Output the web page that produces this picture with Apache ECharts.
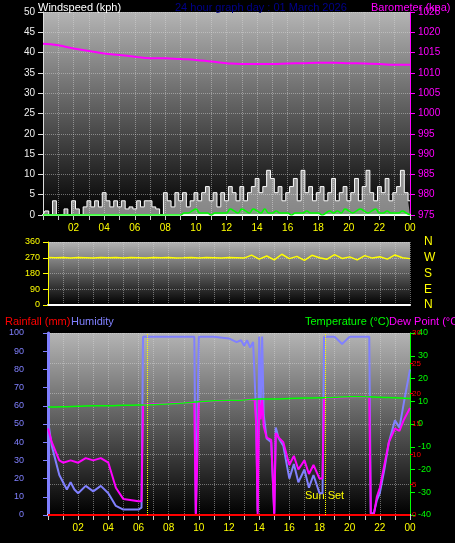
<!DOCTYPE html>
<html>
<head>
<meta charset="utf-8">
<script src="https://cdn.jsdelivr.net/npm/echarts@6/dist/echarts.min.js"></script>
<style>html,body{margin:0;padding:0;background:#000;}#chart{width:455px;height:543px;}</style>
</head>
<body>
<div id="chart"></div>
<script>
// 数据：时间单位为小时 (0-24)
var gust=[0,1,0,3.5, 0,0,1.5,0, 3.5,1.5,0,2, 3.5,2,3.5,2, 5.5,3.5,2,3.5, 2,3.5,1.5,2,
  1.5,3.5,2,3.5, 3.5,2,1.5,0, 5.5,3.5,2,5.5, 3.5,5.5,2,3.5, 5.5,3.5,5.5,7, 3.5,5.5,2,5.5,
  3.5,7,5.5,3.5, 7,3.5,5.5,7, 9,5.5,7,11, 9,5.5,7,3.5, 5.5,7,9,3.5, 11,5.5,7,3.5,
  5.5,7,3.5,5.5, 9,3.5,5.5,7, 3.5,5.5,9,3.5, 7,11,5.5,3.5, 7,5.5,9,3.5, 5.5,7,11,5.5, 3.5];
var windAvg=[0,0,0,0, 0,0,0,0, 0,0,0,0, 0,0,0,0, 0,0,0,0, 0,0,0,0,
  0,0,0,0, 0,0,0,0, 0,0,0,0, 0,0.5,0.5,1, 1.5,0.5,0.5,0.5, 0,0.5,0.5,0.5,
  0.5,1.5,1,0.5, 1.5,1,0.5,1.5, 1,0.5,1.5,0.5, 0.5,1,0.5,0.5, 0.5,0,0.5,0.5, 0.5,1,0.5,0.5,
  0.5,0,0.5,1, 0.5,1,0.5,1.5, 1,0.5,1,1.5, 1,0.5,1,1.5, 0.5,0.5,1,0.5, 0.5,0.5,1,0.5, 0];
var baro=[1017.2,1016.8,1016.0,1015.4,1014.8,1014.4,1014.0,1013.6,1013.6,1013.4,1013.2,1012.8,
  1012.4,1012.2,1012.2,1012.2,1012.3,1012.4,1012.5,1012.5,1012.4,1012.3,1012.2,1012.0,1012.0];
var windDir=[272,270,271,269,272,270,268,271,270,272,269,271,270,268,272,270,271,269,270,272,
  268,271,270,269,272,270,268,285,262,280,258,290,265,278,255,284,270,262,288,266,275,258,
  282,268,276,262,286,270,265];
var temp=[7.5,7.6,7.8,8,8,8.2,8.3,8.5,8.8,9.2,9.8,10.2,10.4,10.6,11,11,11.2,11.4,11.5,11.8,12,12,11.8,11.5,11.2];
var humidity=[[0,52],[0.25,38],[0.5,30],[0.75,22],[1,18],[1.25,14],[1.5,18],[1.75,14],[2,12],[2.5,16],[3,13],[3.5,16],[4,12],[4.5,5],[5,3],[5.5,3],[6,3],[6.2,4],[6.3,98],[7,98],[8,98],[9,98],[9.7,98],[9.8,1],[9.9,1],[10,98],[11,98],[12,97],[12.5,95],[12.8,96],[13,93],[13.2,96],[13.4,92],[13.6,95],[13.8,55],[13.9,2],[14,98],[14.1,60],[14.2,98],[14.3,55],[14.5,42],[14.8,40],[15,1],[15.1,48],[15.3,42],[15.6,38],[16,20],[16.3,28],[16.6,18],[17,25],[17.3,15],[17.6,22],[18,12],[18.2,12],[18.3,98],[19,98],[19.5,94],[20,98],[21,98],[21.3,98],[21.4,1],[21.6,1],[21.8,8],[22,12],[22.3,25],[22.6,40],[23,52],[23.3,48],[23.6,62],[24,80]];
var dewPoint=[[0,-2],[0.25,-8],[0.5,-12],[0.75,-16],[1,-17],[1.5,-16],[2,-17],[2.5,-15],[3,-16],[3.5,-15],[4,-17],[4.5,-28],[5,-33],[6,-34],[6.2,-34],[6.3,8.5],[9.7,9.5],[9.8,-40],[9.9,-40],[10,9.8],[12,10.4],[13.7,10.8],[13.8,0],[13.9,-40],[14,11],[14.1,2],[14.2,11],[14.3,-1],[14.5,-6],[14.8,-7],[15,-40],[15.1,-4],[15.3,-6],[15.6,-8],[16,-18],[16.3,-14],[16.6,-20],[17,-16],[17.3,-22],[17.6,-18],[18,-24],[18.2,-24],[18.3,11.5],[21.3,12],[21.4,-40],[21.6,-40],[21.8,-32],[22,-28],[22.3,-18],[22.6,-8],[23,-2],[23.3,-3],[23.6,2],[24,7]];
var rainfall=[0,0,0,0,0,0,0,0,0,0,0,0,0,0,0,0,0,0,0,0,0,0,0,0,0];
var dirLabels={0:'N',90:'E',180:'S',270:'W',360:'N'};
var sunRise=6.6, sunSet=18.4;

function pairs(arr,step){var r=[];for(var i=0;i<arr.length;i++){r.push([i*step,arr[i]]);}return r;}
function hourLabel(v){if(v%2!==0||v===0)return '';var h=v%24;return (h<10?'0':'')+h;}

var font='Liberation Sans';
var bg={type:'linear',x:0,y:0,x2:0,y2:1,colorStops:[{offset:0,color:'#b4b4b4'},{offset:1,color:'#000'}]};
var split={show:true,lineStyle:{color:'rgba(220,220,220,0.45)',type:'dotted'}};
function xa(idx,show){return {type:'value',gridIndex:idx,min:0,max:24,interval:1,
  axisLine:{show:true,lineStyle:{color:'#fff',width:2}},axisTick:{show:show,lineStyle:{color:'#ccc'}},
  splitLine:{show:true,interval:1,lineStyle:{color:'rgba(220,220,220,0.45)',type:'dotted'}},
  axisLabel:{show:show,color:'#ffff00',fontFamily:font,fontSize:10,formatter:hourLabel}};}
function ttl(t,l,top,c){return {text:t,left:l,top:top,textStyle:{color:c,fontSize:11,fontWeight:'normal',fontFamily:font}};}

var myChart=echarts.init(document.getElementById('chart'));
var option={
  backgroundColor:'#000',
  animation:false,
  title:[
    ttl('Windspeed (kph)',33,-3,'#fff'),
    ttl('24 hour graph day : 01 March 2026',170,-3,'#00008b'),
    ttl('Barometer (kpa)',366,-3,'#ff00ff'),
    ttl('Rainfall (mm)',0,311,'#ff0000'),
    ttl('Humidity',66,311,'#8080ff'),
    ttl('Temperature (°C)',300,311,'#00ff00'),
    ttl('Dew Point (°C)',384,311,'#ff00ff')
  ],
  grid:[
    {left:43,right:45,top:12,height:203,show:true,backgroundColor:bg,borderWidth:0},
    {left:48,right:45,top:242,height:63,show:true,backgroundColor:bg,borderWidth:0},
    {left:48,right:45,top:333,height:182,show:true,backgroundColor:bg,borderWidth:0}
  ],
  xAxis:[xa(0,true),xa(1,false),xa(2,true)],
  yAxis:[
    {type:'value',gridIndex:0,min:0,max:50,interval:5,axisLine:{show:true,lineStyle:{color:'#ddd'}},
      axisTick:{show:true},splitLine:split,axisLabel:{color:'#eee',fontFamily:font,fontSize:10}},
    {type:'value',gridIndex:0,min:975,max:1025,interval:5,position:'right',axisLine:{show:true,lineStyle:{color:'#ff00ff'}},
      axisTick:{show:true},splitLine:{show:false},axisLabel:{color:'#ff00ff',fontFamily:font,fontSize:10,formatter:function(v){return String(v);}}},
    {type:'value',gridIndex:1,min:0,max:360,interval:90,axisLine:{show:true,lineStyle:{color:'#ffff00'}},
      axisTick:{show:true},splitLine:split,axisLabel:{color:'#ffff00',fontFamily:font,fontSize:9}},
    {type:'value',gridIndex:1,min:0,max:360,interval:90,position:'right',axisLine:{show:false},
      axisTick:{show:false},splitLine:{show:false},
      axisLabel:{color:'#ffff00',fontFamily:font,fontSize:12,margin:14,formatter:function(v){return dirLabels[v];}}},
    {type:'value',gridIndex:2,min:0,max:100,interval:10,offset:20,axisLine:{show:true,lineStyle:{color:'#8080ff',width:3}},
      axisTick:{show:true},splitLine:{show:false},axisLabel:{color:'#8080ff',fontFamily:font,fontSize:9,margin:4}},
    {type:'value',gridIndex:2,min:0,max:30,interval:5,axisLine:{show:true,lineStyle:{color:'#ff0000'}},
      axisTick:{show:true,length:3},splitLine:split,axisLabel:{color:'#ff0000',fontFamily:font,fontSize:8,margin:2}},
    {type:'value',gridIndex:2,min:-40,max:40,interval:10,position:'right',axisLine:{show:true,lineStyle:{color:'#00ff00'}},
      axisTick:{show:true},splitLine:{show:false},axisLabel:{color:'#00ff00',fontFamily:font,fontSize:9}}
  ],
  series:[
    {name:'Gust',type:'line',xAxisIndex:0,yAxisIndex:0,step:'middle',symbol:'none',data:pairs(gust,0.25),
      lineStyle:{color:'#fff',width:1},areaStyle:{color:'rgba(255,255,255,0.75)'}},
    {name:'Wind',type:'line',xAxisIndex:0,yAxisIndex:0,symbol:'none',smooth:true,data:pairs(windAvg,0.25),
      lineStyle:{color:'#00ff00',width:1.5},areaStyle:{color:'rgba(120,255,120,0.3)'}},
    {name:'Barometer',type:'line',xAxisIndex:0,yAxisIndex:1,symbol:'none',smooth:true,data:pairs(baro,1),
      lineStyle:{color:'#ff00ff',width:2}},
    {name:'Direction',type:'line',xAxisIndex:1,yAxisIndex:2,symbol:'none',data:pairs(windDir,0.5),
      lineStyle:{color:'#ffff00',width:1.5}},
    {name:'Humidity',type:'line',xAxisIndex:2,yAxisIndex:4,symbol:'none',data:humidity,
      lineStyle:{color:'#8080ff',width:2},
      markLine:{symbol:'none',silent:true,lineStyle:{color:'#ffff00',type:'dotted',width:1},
        label:{show:false},data:[{xAxis:sunRise},{xAxis:sunSet}]}},
    {name:'Dew Point',type:'line',xAxisIndex:2,yAxisIndex:6,symbol:'none',data:dewPoint,
      lineStyle:{color:'#ff00ff',width:2}},
    {name:'Temperature',type:'line',xAxisIndex:2,yAxisIndex:6,symbol:'none',smooth:true,data:pairs(temp,1),
      lineStyle:{color:'#00ff00',width:1.5}},
    {name:'Rainfall',type:'line',xAxisIndex:2,yAxisIndex:5,symbol:'none',data:pairs(rainfall,1),
      lineStyle:{color:'#ff0000',width:2}}
  ],
  graphic:[{type:'text',left:305,top:490,style:{text:'Sun Set',fill:'#ffff00',font:'11px Liberation Sans'}}]
};
myChart.setOption(option);
</script>
</body>
</html>
